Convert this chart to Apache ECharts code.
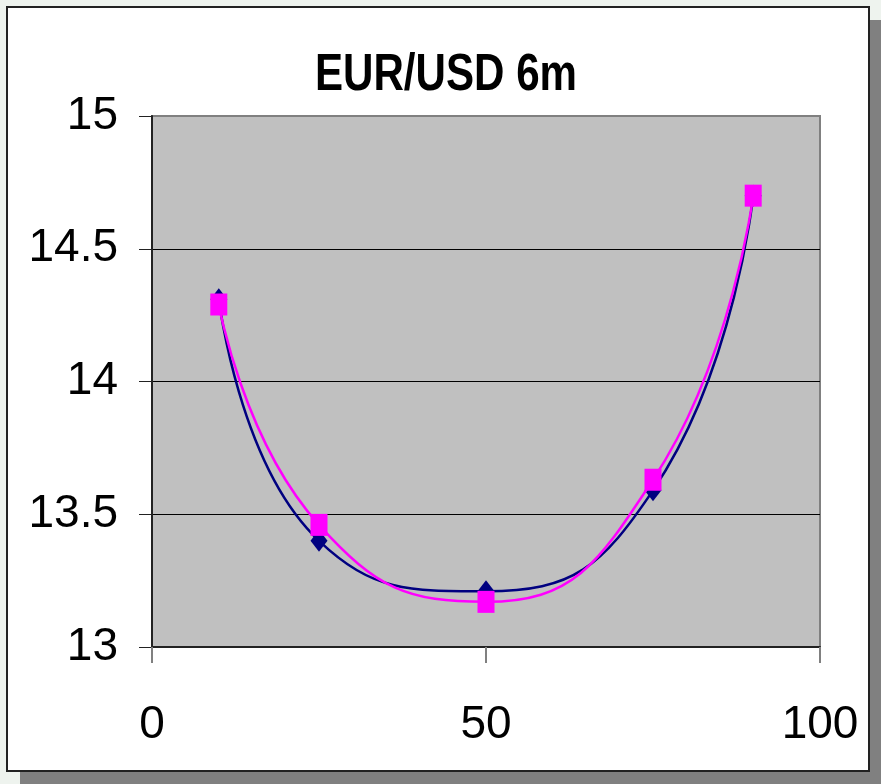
<!DOCTYPE html>
<html>
<head>
<meta charset="utf-8">
<script src="https://cdn.jsdelivr.net/npm/echarts@6/dist/echarts.min.js"></script>
<style>
  html, body { margin: 0; padding: 0; background: #eef3ee; width: 881px; height: 784px; overflow: hidden; }
  #frame {
    position: absolute; left: 6px; top: 6px; width: 860px; height: 762px;
    background: #fff; border: 2px solid #222; box-shadow: 14px 14px 0 #808080;
  }
  #chart { position: absolute; left: 0; top: 0; width: 881px; height: 784px; }
</style>
</head>
<body>
<div id="frame"></div>
<div id="chart"></div>
<script>
// x positions of the points
const xValues = [10, 25, 50, 75, 90];
// navy series (diamonds)
const navyValues = [14.31, 13.40, 13.21, 13.59, 14.70];
// magenta series (squares)
const pinkValues = [14.29, 13.46, 13.17, 13.63, 14.70];
const yTicks = [13, 13.5, 14, 14.5, 15];

const chart = echarts.init(document.getElementById('chart'));

let option = {
  animation: false,
  graphic: [{
    type: 'text',
    x: 446,
    y: 76,
    scaleX: 0.81,
    style: {
      text: 'EUR/USD 6m',
      fontFamily: 'Liberation Sans',
      fontWeight: 'bold',
      fontSize: 52,
      fill: '#000',
      textAlign: 'center',
      textVerticalAlign: 'middle'
    }
  }],
  grid: {
    left: 152,
    top: 116,
    width: 668,
    height: 531,
    show: true,
    backgroundColor: '#c0c0c0',
    borderColor: '#808080',
    borderWidth: 2
  },
  xAxis: {
    type: 'value',
    min: 0,
    max: 100,
    interval: 50,
    axisLine: { show: true, lineStyle: { color: '#222', width: 2 } },
    axisTick: { show: true, inside: false, length: 16, lineStyle: { color: '#808080', width: 2 } },
    splitLine: { show: false },
    axisLabel: {
      margin: 55,
      fontFamily: 'Liberation Sans',
      fontSize: 46,
      color: '#000'
    }
  },
  yAxis: {
    type: 'value',
    min: yTicks[0],
    max: yTicks[yTicks.length - 1],
    interval: 0.5,
    axisLine: { show: true, lineStyle: { color: '#222', width: 2 } },
    axisTick: { show: true, inside: false, length: 13, lineStyle: { color: '#222', width: 1 } },
    splitLine: { show: true, showMinLine: false, showMaxLine: false, lineStyle: { color: '#000', width: 1 } },
    axisLabel: {
      margin: 34,
      fontFamily: 'Liberation Sans',
      fontSize: 46,
      color: '#000'
    }
  },
  series: [
    {
      name: 'navy',
      type: 'line',
      smooth: 0.5,
      data: xValues.map((x, i) => [x, navyValues[i]]),
      lineStyle: { color: '#000080', width: 2.5 },
      itemStyle: { color: '#000080' },
      symbol: 'diamond',
      symbolSize: [17, 22],
      showSymbol: true,
      z: 2
    },
    {
      name: 'pink',
      type: 'line',
      smooth: 0.5,
      data: xValues.map((x, i) => [x, pinkValues[i]]),
      lineStyle: { color: '#ff00ff', width: 2.5 },
      itemStyle: { color: '#ff00ff' },
      symbol: 'rect',
      symbolSize: [17, 22],
      showSymbol: true,
      z: 3
    }
  ]
};
chart.setOption(option);
</script>
</body>
</html>
